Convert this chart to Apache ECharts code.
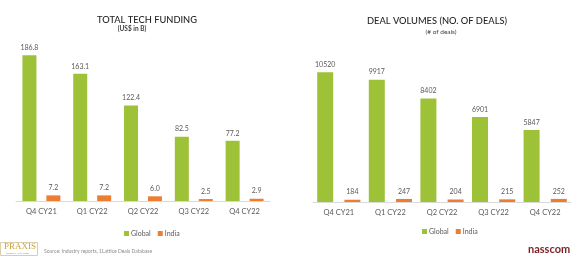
<!DOCTYPE html>
<html><head><meta charset="utf-8">
<script src="https://cdn.jsdelivr.net/npm/echarts@6/dist/echarts.min.js"></script>
<style>html,body{margin:0;padding:0;background:#fff}#c{width:580px;height:257px}</style>
</head><body><div id="c"></div>
<script>
const categories = ['Q4 CY21','Q1 CY22','Q2 CY22','Q3 CY22','Q4 CY22'];
const fundingGlobal = [186.8,163.1,122.4,82.5,77.2];
const fundingIndia = [7.2,7.2,6.0,2.5,2.9];
const dealsGlobal = [10520,9917,8402,6901,5847];
const dealsIndia = [184,247,204,215,252];
const GREEN = '#9dc238', ORANGE = '#ed7d31', FONT = 'Lato';
const chart = echarts.init(document.getElementById('c'));
const lbl = (fmt) => ({show:true, position:'top', fontSize:7, color:'#595959', fontFamily:FONT, distance:4, formatter:fmt});
chart.setOption({
  animation:false,
  textStyle:{fontFamily:FONT},
  title:[
    {text:'TOTAL TECH FUNDING', left:142, top:10, textAlign:'center', textStyle:{fontSize:9.3, fontWeight:500, color:'#262626', fontFamily:FONT}},
    {text:'(US$ in B)', left:127, top:20, textAlign:'center', textStyle:{fontSize:6.5, fontWeight:'bold', color:'#404040', fontFamily:FONT}},
    {text:'DEAL VOLUMES (NO. OF DEALS)', left:432, top:11, textAlign:'center', textStyle:{fontSize:9.3, fontWeight:500, color:'#262626', fontFamily:FONT}},
    {text:'(# of deals)', left:436, top:23, textAlign:'center', textStyle:{fontSize:6.5, fontWeight:'normal', color:'#404040', fontFamily:FONT}}
  ],
  legend:[
    {data:['Global','India'], left:119, top:225, itemWidth:5, itemHeight:5, itemGap:7, icon:'rect', textStyle:{fontSize:7, color:'#595959', padding:[0,0,0,-3]}},
    {data:[{name:'Global2'},{name:'India2'}], left:417, top:223, itemWidth:5, itemHeight:5, itemGap:7, icon:'rect', textStyle:{fontSize:7, color:'#595959', padding:[0,0,0,-3]}, formatter:(n)=>n.replace('2','')}
  ],
  grid:[
    {left:16, right:310, top:45, bottom:56},
    {left:313, right:9, top:54, bottom:55}
  ],
  xAxis:[
    {gridIndex:0, type:'category', data:categories, axisTick:{show:false}, axisLine:{lineStyle:{color:'#d9d9d9'}}, axisLabel:{fontSize:7.5, color:'#595959', margin:7}},
    {gridIndex:1, type:'category', data:categories, axisTick:{show:false}, axisLine:{lineStyle:{color:'#d9d9d9'}}, axisLabel:{fontSize:7.5, color:'#595959', margin:7}}
  ],
  yAxis:[
    {gridIndex:0, type:'value', min:0, max:200, show:false, splitLine:{show:false}},
    {gridIndex:1, type:'value', min:0, max:12000, show:false, splitLine:{show:false}}
  ],
  series:[
    {name:'Global', type:'bar', xAxisIndex:0, yAxisIndex:0, data:fundingGlobal, barWidth:14, barGap:'71%', itemStyle:{color:GREEN}, label:lbl(p=>p.value.toFixed(1))},
    {name:'India', type:'bar', xAxisIndex:0, yAxisIndex:0, data:fundingIndia, barWidth:14, barGap:'71%', itemStyle:{color:ORANGE}, label:lbl(p=>p.value.toFixed(1))},
    {name:'Global2', type:'bar', xAxisIndex:1, yAxisIndex:1, data:dealsGlobal, barWidth:16, barGap:'70%', itemStyle:{color:GREEN}, label:lbl(p=>String(p.value))},
    {name:'India2', type:'bar', xAxisIndex:1, yAxisIndex:1, data:dealsIndia, barWidth:16, barGap:'70%', itemStyle:{color:ORANGE}, label:lbl(p=>String(p.value))}
  ],
  graphic:[
    {type:'rect', shape:{x:0.5, y:242.5, width:37, height:13}, style:{fill:'#fff', stroke:'#d8cfa8', lineWidth:1}},
    {type:'text', left:4, top:242, style:{text:'PRAXIS', font:'9px "Liberation Serif", serif', fill:'#c9a43b'}},
    {type:'text', left:6, top:252, style:{text:'GLOBAL ALLIANCE', font:'2.5px sans-serif', fill:'#9a8a5a'}},
    {type:'text', left:44, top:249, style:{text:'Source: Industry reports, 1Lattice Deals Database', font:'5px Lato', fill:'#8c8c8c'}},
    {type:'text', left:528, top:244, style:{text:'nasscom', font:'bold 11px Lato', fill:'#7a1f24'}}
  ]
});
</script></body></html>
